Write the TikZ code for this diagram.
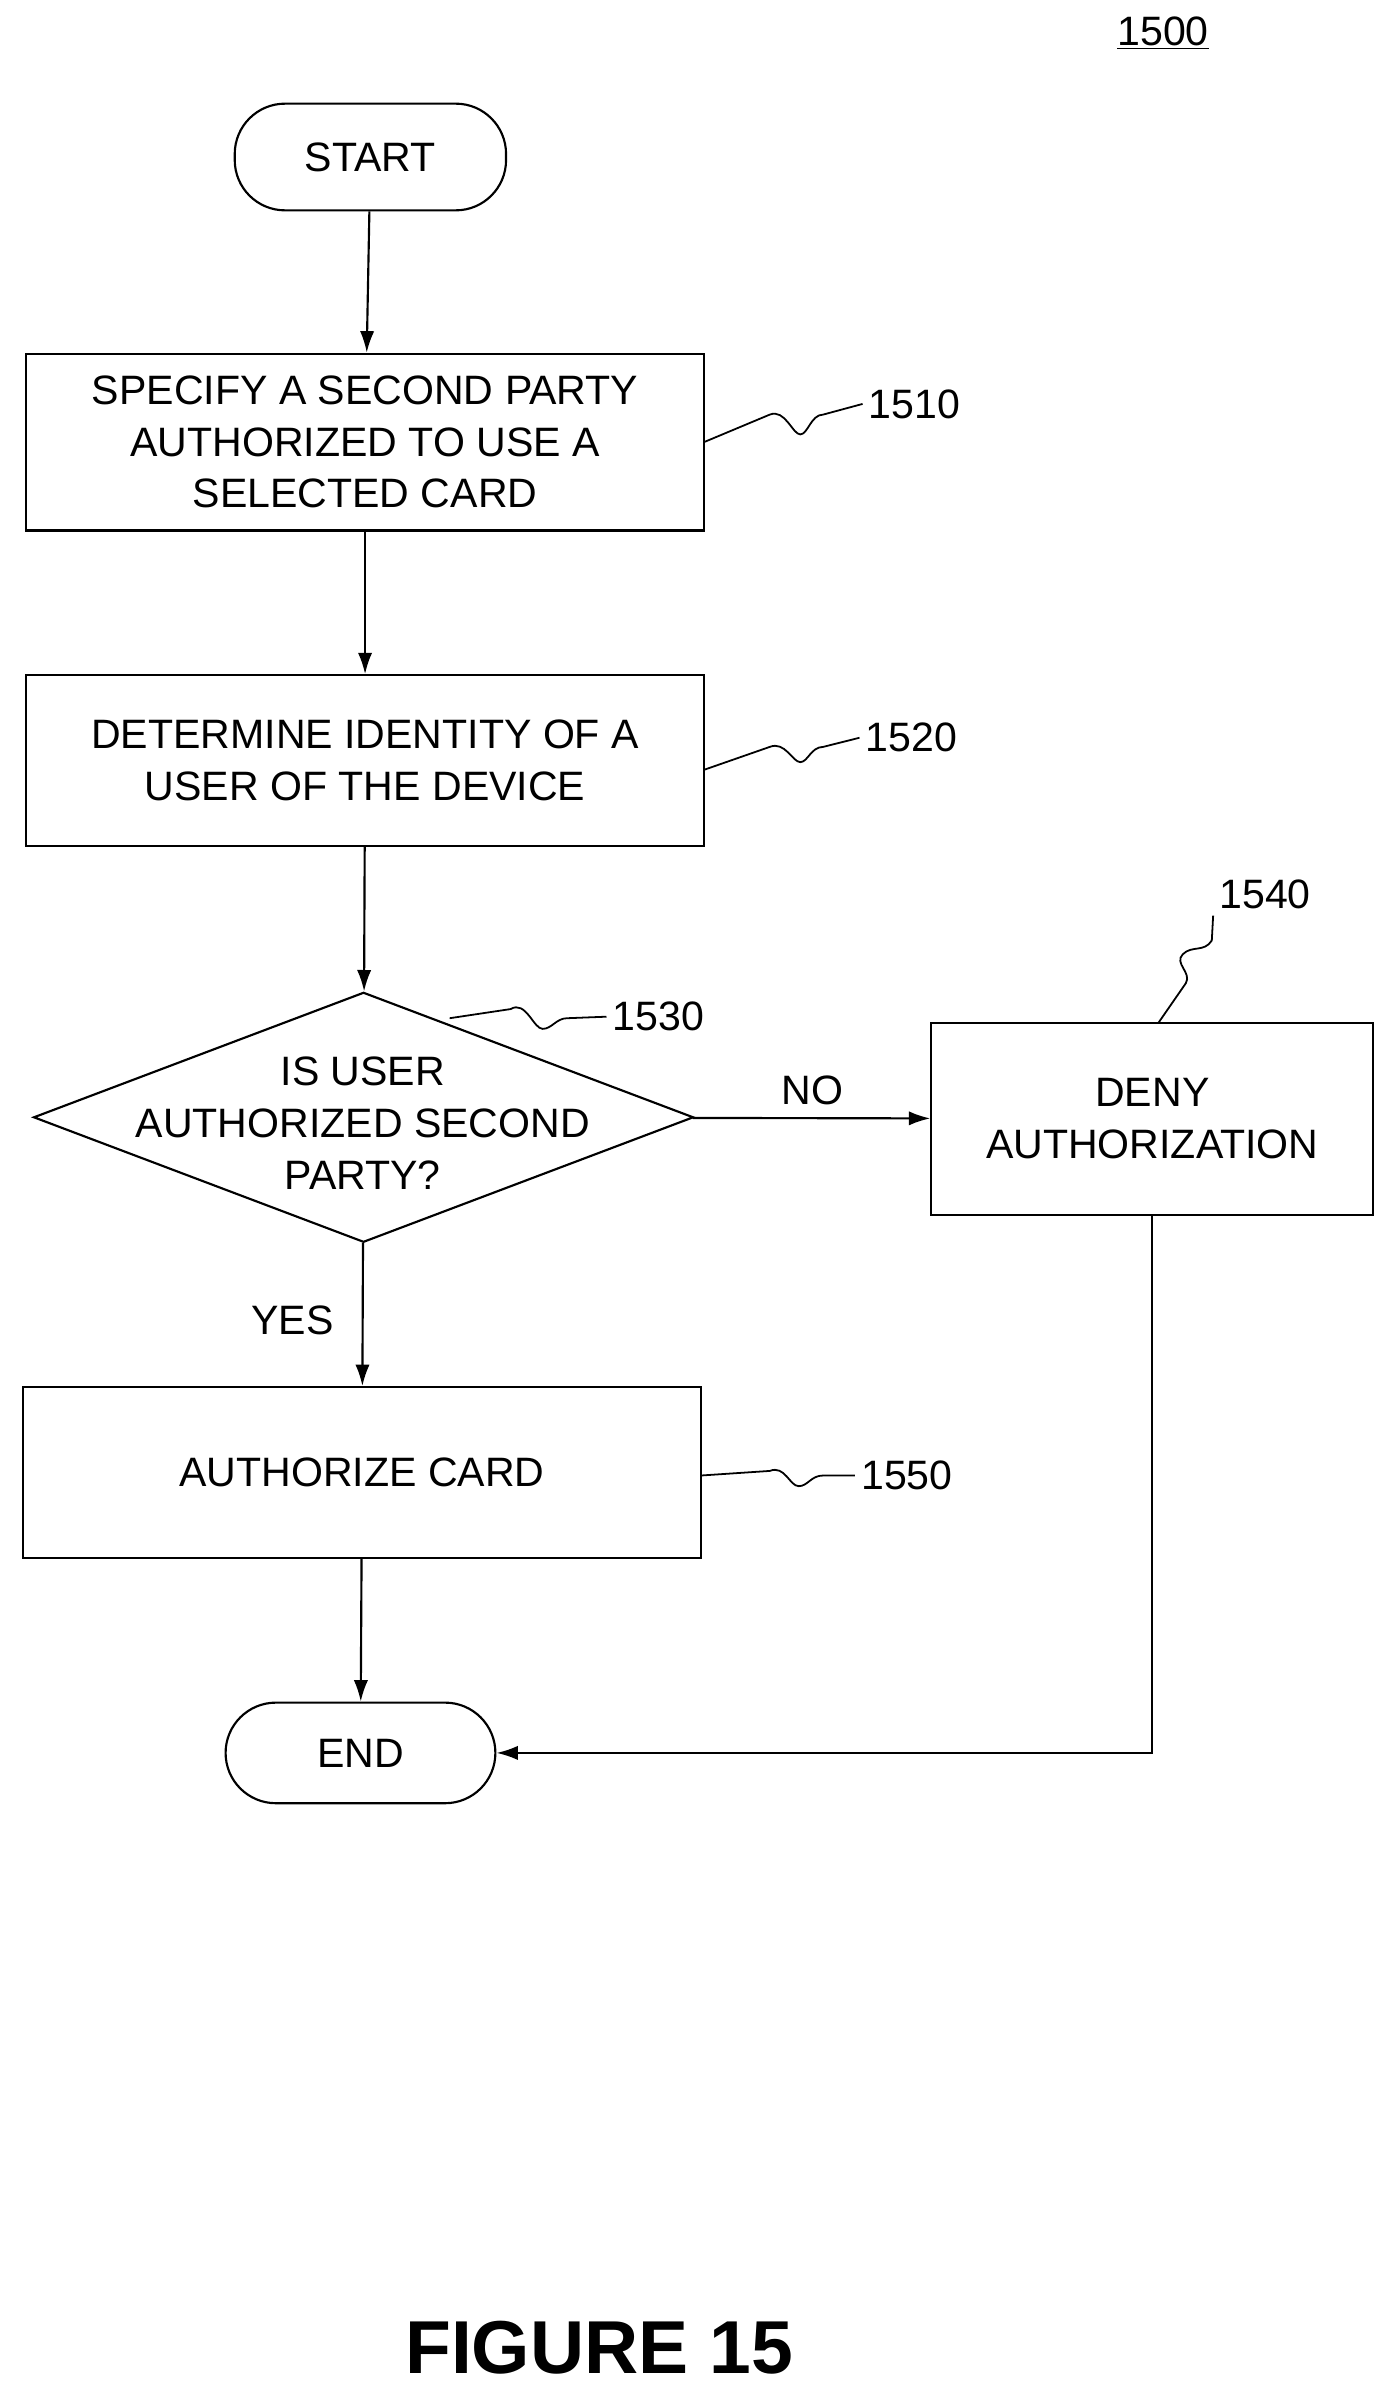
\documentclass[tikz,border=0pt]{standalone}
\usepackage{fontspec}
\setmainfont{Liberation Sans}
\usetikzlibrary{shapes.geometric,arrows.meta}
\begin{document}
\begin{tikzpicture}[x=0.03cm,y=-0.03cm,
  every node/.style={font=\fontsize{23}{29}\selectfont,align=center},
  box/.style={draw,line width=1.2pt,inner sep=0pt},
  term/.style={draw,line width=1.2pt,rounded corners=33*0.03cm,inner sep=0pt},
  arr/.style={line width=1.2pt,-{Latex[length=12pt,width=8pt]}},
  sq/.style={line width=1pt}]
\useasboundingbox (0,0) rectangle (917,1566);
\node[term,minimum width=178*0.03cm,minimum height=70*0.03cm] (start) at (243,103) {START};
\node[box,minimum width=445*0.03cm,minimum height=116*0.03cm] (b1) at (239.5,290) {SPECIFY A SECOND PARTY\\AUTHORIZED TO USE A\\SELECTED CARD};
\node[box,minimum width=445*0.03cm,minimum height=112*0.03cm] (b2) at (239.5,499) {DETERMINE IDENTITY OF A\\USER OF THE DEVICE};
\node[draw,line width=1.2pt,diamond,aspect=2.64,minimum width=433*0.03cm,minimum height=164*0.03cm,inner sep=0pt] (d) at (238.5,733) {};
\node at (238,737) {IS USER\\AUTHORIZED SECOND\\PARTY?};
\node[box,minimum width=290*0.03cm,minimum height=126*0.03cm] (b4) at (756,734) {DENY\\AUTHORIZATION};
\node[box,minimum width=445*0.03cm,minimum height=112*0.03cm] (b5) at (237.5,966) {AUTHORIZE CARD};
\node[term,minimum width=177*0.03cm,minimum height=66*0.03cm] (end) at (236.5,1150) {END};
\node (n1500) at (763,22) {\underline{1500}};
\node (l1510) at (600,265) {1510};
\node (l1520) at (598,484) {1520};
\node (l1530) at (432,667) {1530};
\node (l1540) at (830,587) {1540};
\node (l1550) at (595,968) {1550};
\node (no) at (533,715) {NO};
\node (yes) at (192,866) {YES};
\node (fig) at (393,1540) {\fontsize{42}{48}\selectfont\bfseries FIGURE 15};
\draw[arr] (start) -- (b1);
\draw[arr] (b1) -- (b2);
\draw[arr] (b2) -- (d);
\draw[arr] (d) -- (b4);
\draw[arr] (d) -- (b5);
\draw[arr] (b5) -- (end);
\draw[arr] (b4.south) |- (end.east);
\coordinate (s1) at (462,290); \coordinate (s2) at (462,505); \coordinate (s3) at (295,668);
\coordinate (s4) at (760,671); \coordinate (s5) at (460,968);
\draw[sq] (s1) -- (505,272) .. controls (515,268) and (520,285) .. (525,285) .. controls (530,285) and (532,272) .. (540,272) -- (l1510.west);
\draw[sq] (s2) -- (505,490) .. controls (515,486) and (520,500) .. (525,500) .. controls (530,500) and (532,490) .. (540,490) -- (l1520.west);
\draw[sq] (s3) -- (335,662) .. controls (345,656) and (350,675) .. (356,675) .. controls (362,675) and (365,668) .. (372,668) -- (l1530.west);
\draw[sq] (s4) -- (778,645) .. controls (782,638) and (770,632) .. (776,626) .. controls (782,620) and (790,625) .. (795,617) -- (l1540.south west);
\draw[sq] (s5) -- (505,965) .. controls (515,961) and (518,975) .. (524,975) .. controls (530,975) and (532,968) .. (540,968) -- (l1550.west);
\end{tikzpicture}
\end{document}
